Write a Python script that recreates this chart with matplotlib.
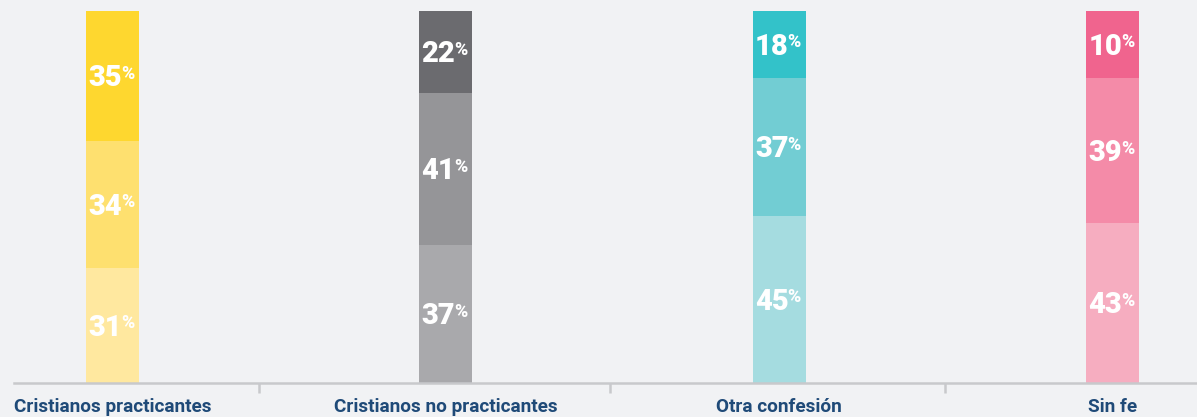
import matplotlib
matplotlib.use("Agg")
import matplotlib.pyplot as plt
from matplotlib.transforms import offset_copy

categories = ["Cristianos practicantes", "Cristianos no practicantes", "Otra confesión", "Sin fe"]
bottom_vals = [31, 37, 45, 43]
middle_vals = [34, 41, 37, 39]
top_vals = [35, 22, 18, 10]

colors = [
    ["#ffe89f", "#fee06f", "#fed72f"],
    ["#a9a9ac", "#959598", "#6b6b6f"],
    ["#a5dce0", "#72cdd3", "#33c2c9"],
    ["#f6adc0", "#f48ba8", "#f0648e"],
]

BG = "#f1f2f4"
W, H = 1197, 417
fig = plt.figure(figsize=(W / 100, H / 100), dpi=100, facecolor=BG)
left_px, right_px, top_px, bot_px = 14, 1197, 11, 383
ax = fig.add_axes([left_px / W, (H - bot_px) / H, (right_px - left_px) / W, (bot_px - top_px) / H])
ax.set_facecolor(BG)

step = 333.3
x0 = 112.5
xs = list(range(len(categories)))
ax.set_xlim((left_px - x0) / step, (right_px - x0) / step)
ax.set_ylim(0, 100)

bw = 53 / step
for i in xs:
    b, m = bottom_vals[i], middle_vals[i]
    t = 100 - b - m  # top segment fills the remainder
    segs = [(0, b, bottom_vals[i]), (b, m, middle_vals[i]), (b + m, t, top_vals[i])]
    for j, (start, h, lab) in enumerate(segs):
        ax.bar(i, h, bottom=start, width=bw, color=colors[i][j], linewidth=0)
        yc = start + h / 2
        tr_num = offset_copy(ax.transData, fig=fig, x=9.5 * 0.72, y=-10.3 * 0.72, units="points")
        ax.text(i, yc, f"{lab}", transform=tr_num, ha="right", va="baseline",
                color="white", fontsize=21, fontweight="heavy", family="Roboto")
        tr_pct = offset_copy(ax.transData, fig=fig, x=8.5 * 0.72, y=-3 * 0.72, units="points")
        ax.text(i, yc, "%", transform=tr_pct, ha="left", va="baseline",
                color="white", fontsize=13, fontweight="heavy", family="Roboto")

for s in ["top", "right", "left"]:
    ax.spines[s].set_visible(False)
ax.spines["bottom"].set_color("#c8c9cc")
ax.spines["bottom"].set_linewidth(1.8)
ax.set_yticks([])

ax.set_xticks(xs)
ax.set_xticklabels(categories, fontsize=13.7, fontweight="bold", color="#1f4a78", family="Roboto")
ax.tick_params(axis="x", which="major", length=0, pad=11)
minor_px = [259, 610, 945]
ax.set_xticks([(p - x0) / step for p in minor_px], minor=True)
ax.tick_params(axis="x", which="minor", length=7, width=1.8, color="#c8c9cc", direction="out")

fig.savefig("out.png", dpi=100, facecolor=BG)
